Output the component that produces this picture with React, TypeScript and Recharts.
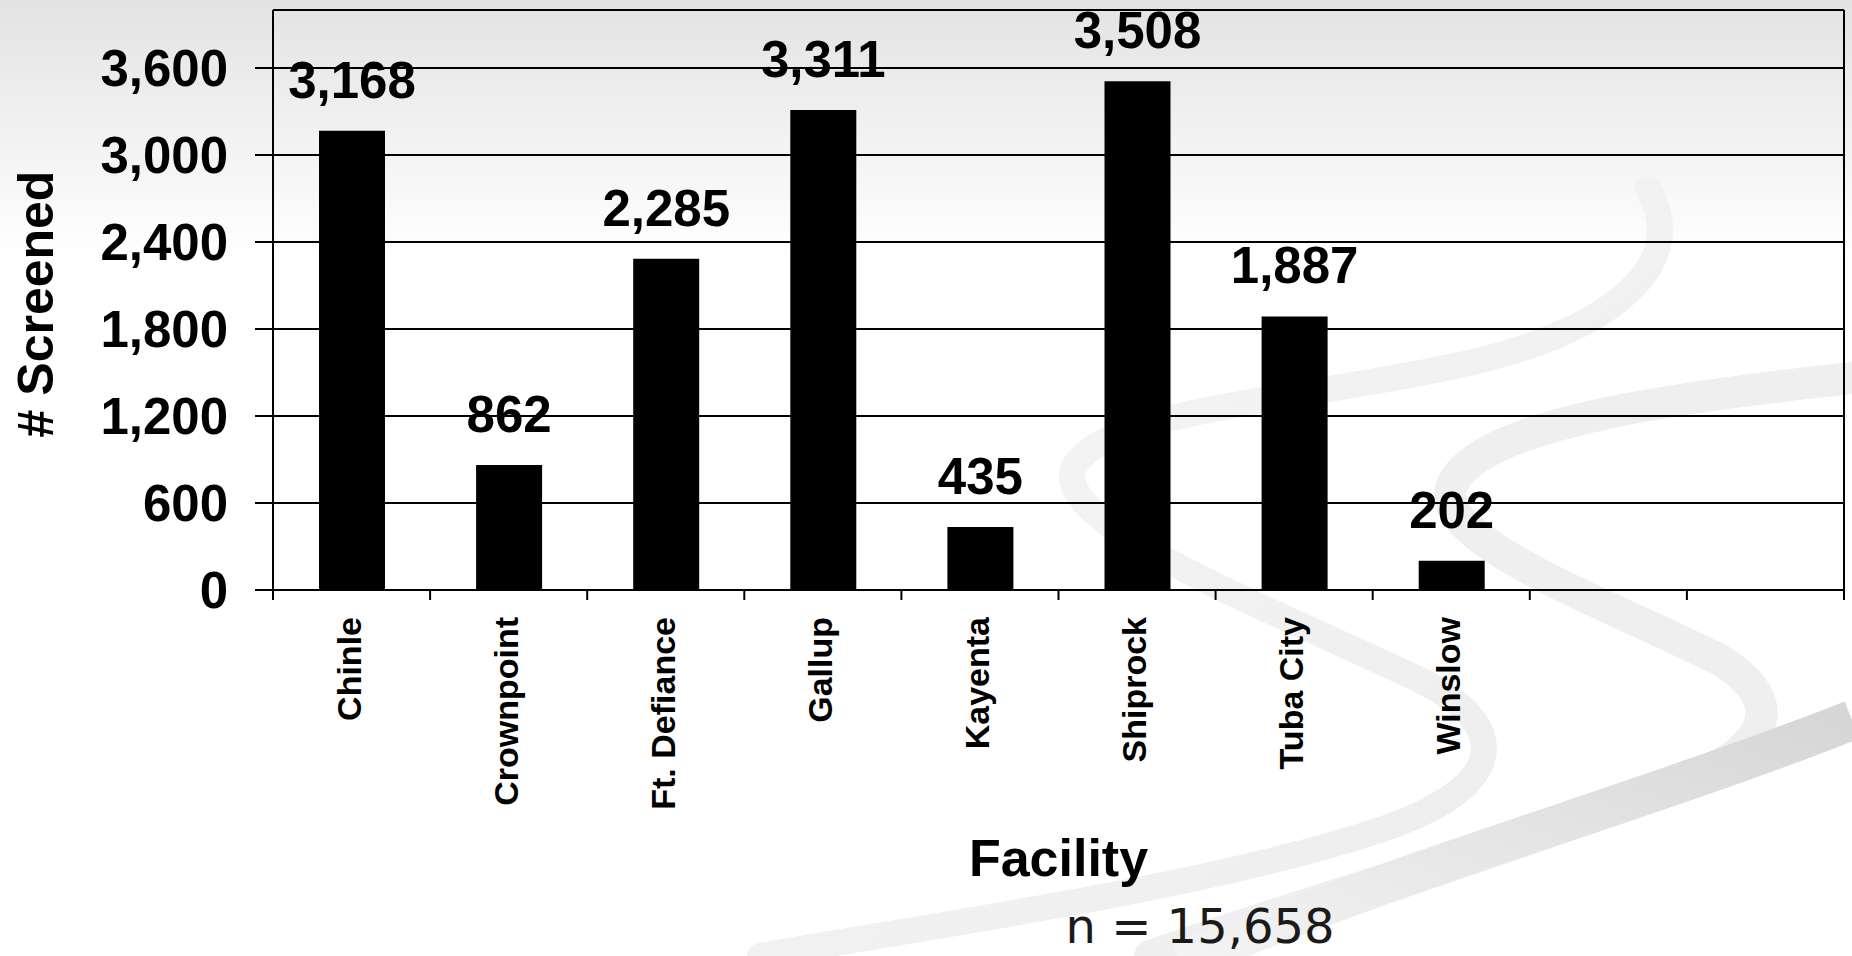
import React from 'react';
import { BarChart, Bar, XAxis, YAxis, CartesianGrid, LabelList, ReferenceLine, Label } from 'recharts';

const facilities = ['Chinle', 'Crownpoint', 'Ft. Defiance', 'Gallup', 'Kayenta', 'Shiprock', 'Tuba City', 'Winslow', '', ' '];
const screened = [3168, 862, 2285, 3311, 435, 3508, 1887, 202, null, null];
const yTicks = [0, 600, 1200, 1800, 2400, 3000, 3600];
const yMax = 4000;
const totalLabel = 'n = 15,658';

const data = facilities.map((name, i) => ({ name, screened: screened[i] }));

const FONT = '"Liberation Sans", Arial, sans-serif';
const fmt = (v: number) => v.toLocaleString('en-US');

function FacilityTick(props: any) {
  const { x, y, payload, width, visibleTicksCount, index } = props;
  const step = width && visibleTicksCount ? width / visibleTicksCount : 157.1;
  const left = x - step / 2;
  const ty = y + 27;
  return (
    <g>
      <line x1={left} y1={y} x2={left} y2={y + 10} stroke="#000" strokeWidth={2} />
      {index === visibleTicksCount - 1 && (
        <line x1={x + step / 2} y1={y} x2={x + step / 2} y2={y + 10} stroke="#000" strokeWidth={2} />
      )}
      <text
        x={x}
        y={ty}
        dy={9}
        transform={`rotate(-90 ${x} ${ty})`}
        textAnchor="end"
        fill="#000"
        fontFamily={FONT}
        fontWeight="bold"
        fontSize={34}
      >
        {String(payload.value).trim()}
      </text>
    </g>
  );
}

// faint slide decoration behind the chart
function Backdrop() {
  return (
    <svg width={1852} height={956} style={{ position: 'absolute', left: 0, top: 0 }}>
      <defs>
        <linearGradient id="sky" x1="0" y1="0" x2="0" y2="1">
          <stop offset="0" stopColor="#e3e3e3" />
          <stop offset="0.27" stopColor="#ffffff" />
          <stop offset="1" stopColor="#ffffff" />
        </linearGradient>
        <linearGradient id="ribbonA" x1="0" y1="0" x2="1" y2="1">
          <stop offset="0" stopColor="#f7f7f7" />
          <stop offset="1" stopColor="#ececec" />
        </linearGradient>
        <linearGradient id="ribbonC" x1="0" y1="1" x2="1" y2="0">
          <stop offset="0" stopColor="#f4f4f4" />
          <stop offset="1" stopColor="#d6d6d6" />
        </linearGradient>
      </defs>
      <rect x={0} y={0} width={1852} height={956} fill="url(#sky)" />
      <path
        d="M1648,189 C1690,260 1620,330 1460,365 C1300,400 1110,410 1075,465 C1045,520 1250,600 1420,680 C1520,730 1500,790 1380,830 C1200,890 900,930 760,956"
        fill="none"
        stroke="url(#ribbonA)"
        strokeWidth={26}
        strokeLinecap="round"
      />
      <path
        d="M1852,378 C1700,395 1480,420 1452,485 C1430,540 1600,600 1720,660 C1800,710 1760,760 1640,800 C1450,860 1250,920 1150,956"
        fill="none"
        stroke="#efefef"
        strokeWidth={32}
        strokeLinecap="round"
      />
      <path d="M1181,962 C1400,870 1650,800 1852,720" fill="none" stroke="url(#ribbonC)" strokeWidth={40} />
    </svg>
  );
}

export default function App() {
  return (
    <div style={{ position: 'absolute', left: 0, top: 0, width: 1852, height: 956, overflow: 'hidden', background: '#fff' }}>
      <Backdrop />
      <div style={{ position: 'absolute', left: 0, top: 0 }}>
        <BarChart width={1852} height={956} data={data} margin={{ top: 10, right: 0, bottom: 0, left: 0 }} barSize={66}>
          <CartesianGrid vertical={false} stroke="#000" strokeWidth={2} strokeOpacity={1} />
          <XAxis
            dataKey="name"
            height={366}
            interval={0}
            tickLine={false}
            tickSize={0}
            tickMargin={0}
            axisLine={{ stroke: '#000', strokeWidth: 2 }}
            tick={<FacilityTick />}
          >
            <Label
              value="Facility"
              position="insideBottom"
              offset={80}
              style={{ fontFamily: FONT, fontWeight: 'bold', fontSize: 52, fill: '#000' }}
            />
          </XAxis>
          <YAxis
            width={273}
            domain={[0, yMax]}
            ticks={yTicks}
            interval={0}
            tickSize={18}
            tickMargin={27}
            tickFormatter={fmt}
            axisLine={{ stroke: '#000', strokeWidth: 2 }}
            tickLine={{ stroke: '#000', strokeWidth: 2 }}
            tick={{ fontFamily: FONT, fontWeight: 'bold', fontSize: 51, fill: '#000' }}
            label={{
              content: () => (
                <text
                  x={53}
                  y={304}
                  transform="rotate(-90 53 304)"
                  textAnchor="middle"
                  fontFamily={FONT}
                  fontWeight="bold"
                  fontSize={50}
                  fill="#000"
                >
                  # Screened
                </text>
              ),
            }}
          />
          <YAxis
            yAxisId="frame"
            orientation="right"
            width={8}
            domain={[0, yMax]}
            tick={false}
            tickLine={false}
            axisLine={{ stroke: '#000', strokeWidth: 2 }}
          />
          <ReferenceLine y={yMax} stroke="#000" strokeWidth={2} />
          <Bar dataKey="screened" fill="#000" isAnimationActive={false}>
            <LabelList
              dataKey="screened"
              position="top"
              offset={33}
              formatter={(v: any) => (v == null ? '' : fmt(v))}
              style={{ fontFamily: FONT, fontWeight: 'bold', fontSize: 51, fill: '#000' }}
            />
          </Bar>
        </BarChart>
      </div>
      <div
        style={{
          position: 'absolute',
          left: 1200,
          top: 950,
          transform: 'translate(-50%, -100%)',
          fontFamily: '"DejaVu Sans", sans-serif',
          fontWeight: 400,
          fontSize: 48,
          lineHeight: '48px',
          color: '#1a1a1a',
          whiteSpace: 'nowrap',
        }}
      >
        {totalLabel}
      </div>
    </div>
  );
}
